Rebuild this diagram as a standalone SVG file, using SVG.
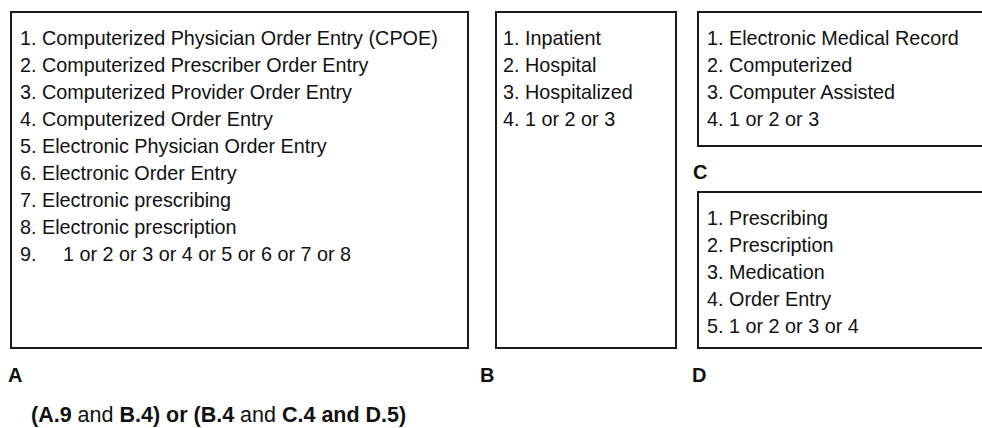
<svg xmlns="http://www.w3.org/2000/svg" width="982" height="428" viewBox="0 0 982 428">
<style>
.box{fill:#fff;stroke:#1a1a1a;stroke-width:2}
.t{font-family:"Liberation Sans",Arial,sans-serif;font-size:19.8px;fill:#111}
.lbl{font-family:"Liberation Sans",Arial,sans-serif;font-size:20px;font-weight:bold;fill:#111}
.f{font-family:"Liberation Sans",Arial,sans-serif;font-size:21.5px;fill:#111}
.b{font-weight:bold}
</style>
<rect width="982" height="428" fill="#fff"/>
<g id="nodeA">
<rect class="box" x="11" y="12" width="457" height="336"/>
<text class="t" x="20" y="45">1. Computerized Physician Order Entry (CPOE)</text>
<text class="t" x="20" y="72">2. Computerized Prescriber Order Entry</text>
<text class="t" x="20" y="99">3. Computerized Provider Order Entry</text>
<text class="t" x="20" y="126">4. Computerized Order Entry</text>
<text class="t" x="20" y="153">5. Electronic Physician Order Entry</text>
<text class="t" x="20" y="180">6. Electronic Order Entry</text>
<text class="t" x="20" y="207">7. Electronic prescribing</text>
<text class="t" x="20" y="234">8. Electronic prescription</text>
<text class="t" x="20" y="261">9.<tspan x="63">1 or 2 or 3 or 4 or 5 or 6 or 7 or 8</tspan></text>
<text class="lbl" x="8" y="382">A</text>
</g>
<g id="nodeB">
<rect class="box" x="496" y="12" width="180" height="336"/>
<text class="t" x="503" y="45">1. Inpatient</text>
<text class="t" x="503" y="72">2. Hospital</text>
<text class="t" x="503" y="99">3. Hospitalized</text>
<text class="t" x="503" y="126">4. 1 or 2 or 3</text>
<text class="lbl" x="480" y="382">B</text>
</g>
<g id="nodeC">
<rect class="box" x="698" y="12" width="300" height="134"/>
<text class="t" x="707" y="45">1. Electronic Medical Record</text>
<text class="t" x="707" y="72">2. Computerized</text>
<text class="t" x="707" y="99">3. Computer Assisted</text>
<text class="t" x="707" y="126">4. 1 or 2 or 3</text>
<text class="lbl" x="693" y="179">C</text>
</g>
<g id="nodeD">
<rect class="box" x="698" y="192" width="300" height="156"/>
<text class="t" x="707" y="225">1. Prescribing</text>
<text class="t" x="707" y="252">2. Prescription</text>
<text class="t" x="707" y="279">3. Medication</text>
<text class="t" x="707" y="306">4. Order Entry</text>
<text class="t" x="707" y="333">5. 1 or 2 or 3 or 4</text>
<text class="lbl" x="692" y="382">D</text>
</g>
<g id="connectors"></g>
<text class="f" x="31" y="422"><tspan class="b">(A.9</tspan> and <tspan class="b">B.4) or (B.4</tspan> and <tspan class="b">C.4 and D.5)</tspan></text>
</svg>
